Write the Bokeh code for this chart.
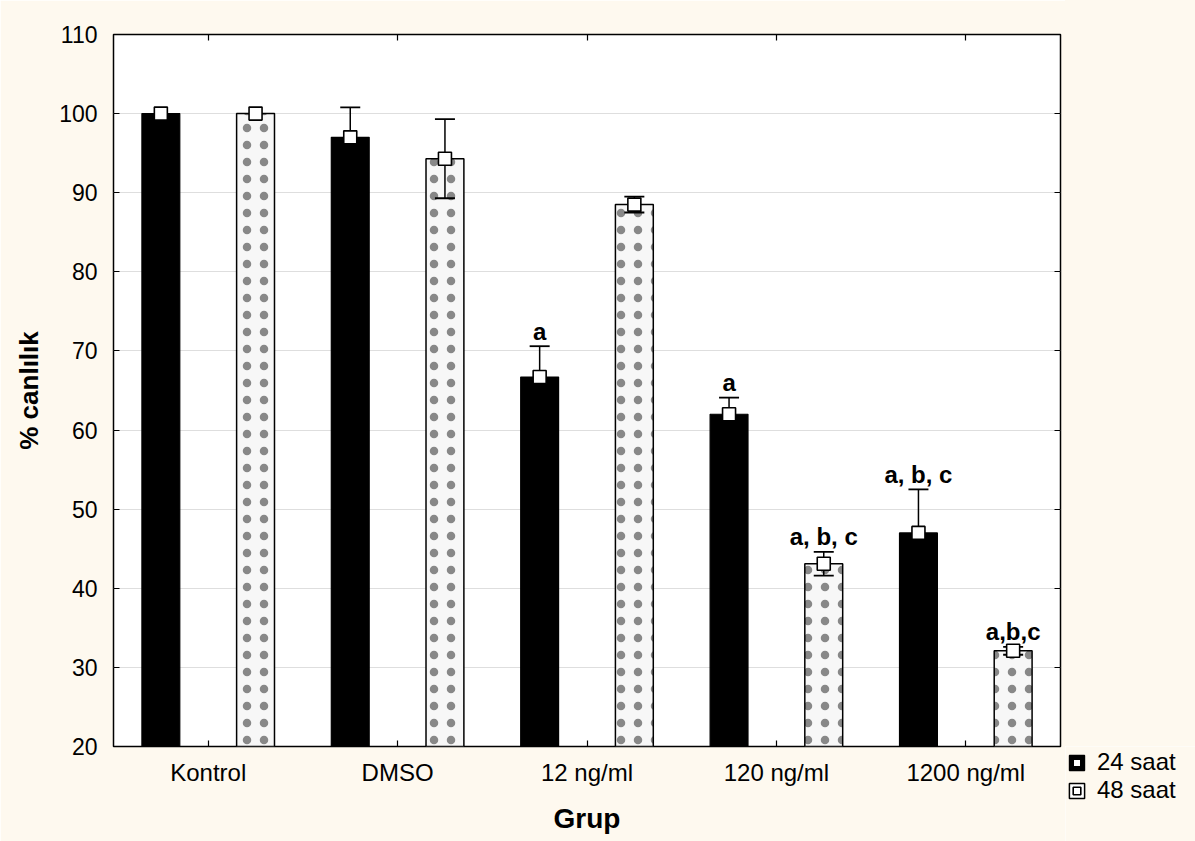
import numpy as np
import pandas as pd
from bokeh.plotting import figure
from bokeh.layouts import row, column
from bokeh.models import (FactorRange, Range1d, CategoricalAxis, LinearAxis, Spacer,
                          SingleIntervalTicker, Legend, LegendItem, ColumnDataSource)
from bokeh.core.properties import value
from bokeh.transform import dodge
from bokeh.embed import file_html
from bokeh.resources import INLINE

# ---------------- data ----------------
cats = ["Kontrol", "DMSO", "12 ng/ml", "120 ng/ml", "1200 ng/ml"]
mean_24 = [100.0, 97.0, 66.7, 62.0, 47.0]
sd_24 = [0.0, 3.8, 3.9, 2.1, 5.5]
mean_48 = [100.0, 94.3, 88.5, 43.1, 32.1]
sd_48 = [0.0, 5.0, 1.0, 1.5, 0.5]
sig_24 = ["", "", "a", "a", "a, b, c"]
sig_48 = ["", "", "", "a, b, c", "a,b,c"]
series = ["24 saat", "48 saat"]
x_title = "Grup"
y_title = "% canlılık"

BG = "#FEF9EF"
FONT = "Liberation Sans"

df = pd.DataFrame(dict(grup=cats, m24=mean_24, s24=sd_24, m48=mean_48, s48=sd_48,
                       t24=sig_24, t48=sig_48))
df["up24"] = df.m24 + df.s24
df["lo24"] = df.m24 - df.s24
df["up48"] = df.m48 + df.s48
df["lo48"] = df.m48 - df.s48

src = ColumnDataSource(df)
err24 = ColumnDataSource(df[df.s24 > 0])
err48 = ColumnDataSource(df[df.s48 > 0])
lab24 = ColumnDataSource(df[df.t24 != ""])
lab48 = ColumnDataSource(df[df.t48 != ""])

BAR24 = dict(fill_color="black", line_color="black", line_width=1.2)
BAR48 = dict(fill_color="#F7F7F7", line_color="black", line_width=1.5,
             hatch_pattern="dot", hatch_color="black", hatch_scale=17, hatch_alpha=0.45)
MARK = dict(marker="square", fill_color="white", line_color="black", line_width=1.6)

p = figure(x_range=FactorRange(factors=cats, range_padding=0), y_range=Range1d(20, 110),
           width=1065, height=841, output_backend="svg", toolbar_location=None,
           min_border_left=113, min_border_right=5, min_border_top=34, min_border_bottom=95)
p.background_fill_color = "white"
p.border_fill_color = BG
p.outline_line_color = "black"
p.outline_line_width = 1.5

p.xgrid.visible = False
p.ygrid.grid_line_color = "#BDBDBD"
p.ygrid.grid_line_dash = "1 1"
p.ygrid.grid_line_width = 1
p.yaxis.ticker = SingleIntervalTicker(interval=10)

x24 = dodge("grup", -0.25, range=p.x_range)
x48 = dodge("grup", 0.25, range=p.x_range)

p.vbar(x=x24, top="m24", bottom=0, width=0.2, source=src, **BAR24)
p.vbar(x=x48, top="m48", bottom=0, width=0.2, source=src, **BAR48)

# error bars
for es, xx, up, lo in [(err24, x24, "up24", "lo24"), (err48, x48, "up48", "lo48")]:
    p.segment(x0=xx, x1=xx, y0=lo, y1=up, source=es, line_color="black", line_width=1.5)
    p.scatter(x=xx, y=up, source=es, marker="dash", size=20, line_color="black", line_width=1.8)
    p.scatter(x=xx, y=lo, source=es, marker="dash", size=20, line_color="black", line_width=1.8)

p.scatter(x=x24, y="m24", source=src, size=13, **MARK)
p.scatter(x=x48, y="m48", source=src, size=13, **MARK)

# significance letters
for ls, xx, up, tt in [(lab24, x24, "up24", "t24"), (lab48, x48, "up48", "t48")]:
    p.text(x=xx, y=up, text=tt, source=ls, text_align="center", text_baseline="alphabetic",
           y_offset=-15, text_font=value(FONT), text_font_style="bold", text_font_size="24px",
           text_color="black")

# axes styling
for ax in [p.xaxis[0], p.yaxis[0]]:
    ax.axis_line_color = None
    ax.major_tick_in = 6
    ax.major_tick_out = 0
    ax.minor_tick_line_color = None
    ax.major_tick_line_color = "black"
    ax.major_tick_line_width = 1.2
    ax.major_label_text_font = FONT
    ax.major_label_text_color = "black"
    ax.axis_label_text_font = FONT
    ax.axis_label_text_font_style = "bold"
    ax.axis_label_text_color = "black"

p.yaxis.major_label_text_font_size = "23px"
p.yaxis.major_label_standoff = 12
p.yaxis.axis_label = y_title
p.yaxis.axis_label_text_font_size = "26px"
p.yaxis.axis_label_standoff = 12

p.xaxis.major_label_text_font_size = "24px"
p.xaxis.major_label_standoff = 12
p.xaxis.axis_label = x_title
p.xaxis.axis_label_text_font_size = "28px"
p.xaxis.axis_label_standoff = 14

top = CategoricalAxis(axis_line_color=None, major_tick_in=6, major_tick_out=0,
                      major_label_text_font_size="1px", major_label_text_color=None,
                      major_label_standoff=0, major_tick_line_width=1.2)
p.add_layout(top, "above")
right = LinearAxis(axis_line_color=None, major_tick_in=6, major_tick_out=0,
                   minor_tick_line_color=None, ticker=SingleIntervalTicker(interval=10),
                   major_label_text_font_size="1px", major_label_text_color=None,
                   major_label_standoff=0, major_tick_line_width=1.2)
p.add_layout(right, "right")

# ---------------- legend panel (small figure under a spacer) ----------------
lg = figure(width=130, height=95, output_backend="svg", toolbar_location=None,
            x_axis_type=None, y_axis_type=None,
            x_range=FactorRange(factors=cats, range_padding=0), y_range=Range1d(20, 110),
            min_border_left=0, min_border_right=0, min_border_top=0, min_border_bottom=0)
lg.grid.visible = False
lg.outline_line_color = None
lg.background_fill_color = BG
lg.border_fill_color = BG
lb24 = lg.vbar(x="grup", top="m24", width=0.2, source=src, visible=False, **BAR24)
lb48 = lg.vbar(x="grup", top="m48", width=0.2, source=src, visible=False,
               fill_color="white", line_color="black", line_width=1.5)
lm24 = lg.scatter(x="grup", y="m24", source=src, size=8, visible=False, **MARK)
lm48 = lg.scatter(x="grup", y="m48", source=src, size=8, visible=False, **MARK)

legend = Legend(items=[LegendItem(label=series[0], renderers=[lb24, lm24]),
                       LegendItem(label=series[1], renderers=[lb48, lm48])],
                location="top_left", padding=0, spacing=0, margin=2,
                glyph_width=19, glyph_height=19, label_standoff=11,
                label_text_font=FONT, label_text_font_size="24px", label_text_color="black",
                inactive_fill_alpha=0, click_policy="none",
                border_line_color=None, background_fill_alpha=0)
lg.add_layout(legend, "center")

side = column(Spacer(width=130, height=746, background=BG), lg, spacing=0)
layout = row(p, side, spacing=0)

html = file_html(layout, INLINE)
html = html.replace("<body>", f'<body style="background:{BG};">', 1)
open("out.html", "w").write(html)
